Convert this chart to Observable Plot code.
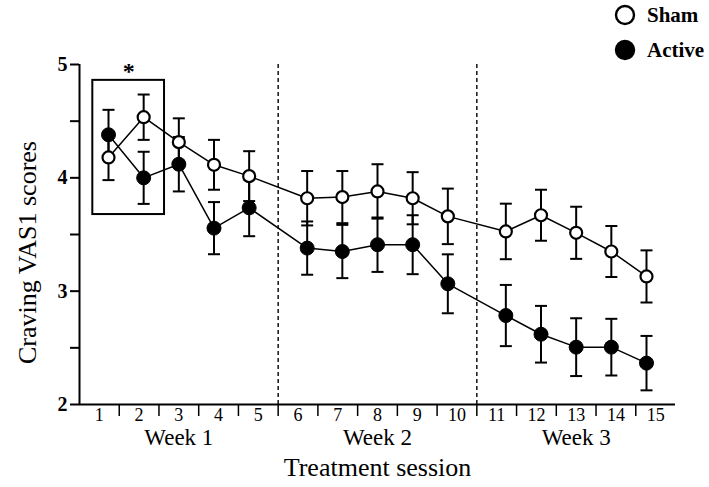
<!DOCTYPE html>
<html><head><meta charset="utf-8">
<script src="https://cdn.jsdelivr.net/npm/d3@7"></script>
<script src="https://cdn.jsdelivr.net/npm/@observablehq/plot@0.6"></script>
<style>
body{margin:0;background:#fff;}
#wrap{position:relative;width:709px;height:487px;font-family:"Liberation Serif","Times New Roman",serif;}
#legend{position:absolute;left:0;top:0;pointer-events:none;}
</style></head><body><div id="wrap"></div>
<script>
// ---- data ----
const sessions = [1,2,3,4,5,6,7,8,9,10,11,12,13,14,15];
const weekOfSession = [1,1,1,1,1,2,2,2,2,2,3,3,3,3,3];
const weekNames = ["Week 1","Week 2","Week 3"];
const weekCenters = [3,8,13];
const weekBoundaries = [5.5,10.5];
const seriesNames = ["Sham","Active"];
const shamMean = [4.18,4.535,4.315,4.115,4.015,3.82,3.83,3.88,3.82,3.66,3.527,3.67,3.515,3.35,3.13];
const shamSem  = [0.20,0.20,0.21,0.22,0.22,0.24,0.23,0.24,0.23,0.245,0.245,0.225,0.23,0.225,0.23];
const activeMean = [4.38,4.0,4.12,3.556,3.735,3.38,3.35,3.41,3.41,3.065,2.785,2.62,2.506,2.506,2.365];
const activeSem  = [0.22,0.23,0.24,0.23,0.25,0.235,0.235,0.24,0.26,0.26,0.27,0.25,0.255,0.25,0.24];
const yTicks = [2,2.5,3,3.5,4,4.5,5];
const xBoundaryTicks = [1.5,2.5,3.5,4.5,5.5,6.5,7.5,8.5,9.5,10.5,11.5,12.5,13.5,14.5];
const highlight = [{x1:0.835,x2:2.64,y1:3.676,y2:4.86,label:"*"}];
const yLabel = "Craving VAS1 scores";
const xLabel = "Treatment session";

// ---- layout helpers ----
const squeeze = 0.885; // points are drawn compressed toward each week's centre
const pos = (s) => { const c = weekCenters[weekOfSession[s-1]-1]; return c + (s - c) * squeeze; };

const rows = [];
sessions.forEach((s,i) => {
  rows.push({session:s, group:"Sham", mean:shamMean[i], sem:shamSem[i], x:pos(s)});
  rows.push({session:s, group:"Active", mean:activeMean[i], sem:activeSem[i], x:pos(s)});
});
const sham = rows.filter(d => d.group === "Sham");
const active = rows.filter(d => d.group === "Active");
const cap = {draw(ctx){ ctx.moveTo(-6,0); ctx.lineTo(6,0); }};
const weeks = weekNames.map((w,i) => ({name:w, x:weekCenters[i]}));
const font = '"Liberation Serif","Times New Roman",serif';

const chart = Plot.plot({
  width: 709, height: 487,
  marginLeft: 79, marginRight: 34, marginTop: 64, marginBottom: 83,
  style: {fontFamily: font, background: "white", color: "black"},
  x: {type: "linear", domain: [0.5, 15.5], axis: null},
  y: {domain: [2, 5], axis: null},
  marks: [
    Plot.ruleX(weekBoundaries, {y1: 2, y2: 5, stroke: "black", strokeWidth: 1.4, strokeDasharray: "4,3"}),
    Plot.ruleY([2], {x1: 0.5, x2: 15.5, stroke: "black", strokeWidth: 2}),
    Plot.ruleX([0.5], {y1: 2, y2: 5, stroke: "black", strokeWidth: 2}),
    Plot.axisY({ticks: yTicks, tickSize: 9, tickPadding: 3, strokeWidth: 2, label: null,
      tickFormat: d => Number.isInteger(d) ? String(d) : "", fontSize: 20, fontWeight: "bold"}),
    Plot.axisX({ticks: xBoundaryTicks, tickSize: 12, strokeWidth: 1.5, tickFormat: () => "", label: null}),
    Plot.text(sessions, {x: d => d, frameAnchor: "bottom", dy: 16, text: d => String(d), fontSize: 18}),
    Plot.text(weeks, {x: "x", frameAnchor: "bottom", dy: 40, text: "name", fontSize: 23}),
    Plot.text([xLabel], {frameAnchor: "bottom", dy: 71, fontSize: 26}),
    Plot.text([yLabel], {frameAnchor: "left", textAnchor: "middle", dx: -52, dy: 18, rotate: -90, fontSize: 26}),
    Plot.rect(highlight, {x1: "x1", x2: "x2", y1: "y1", y2: "y2", fill: "none", stroke: "black", strokeWidth: 2}),
    Plot.text(highlight, {x: d => (d.x1 + d.x2) / 2, y: "y2", text: "label", dy: -9, fontSize: 24, fontWeight: "bold"}),
    Plot.ruleX(rows, {x: "x", y1: d => d.mean - d.sem, y2: d => d.mean + d.sem, stroke: "black", strokeWidth: 2}),
    Plot.dot(rows, {x: "x", y: d => d.mean - d.sem, symbol: cap, r: 6, fill: "none", stroke: "black", strokeWidth: 2}),
    Plot.dot(rows, {x: "x", y: d => d.mean + d.sem, symbol: cap, r: 6, fill: "none", stroke: "black", strokeWidth: 2}),
    Plot.line(sham, {x: "x", y: "mean", stroke: "black", strokeWidth: 1.5}),
    Plot.line(active, {x: "x", y: "mean", stroke: "black", strokeWidth: 1.5}),
    Plot.dot(sham, {x: "x", y: "mean", r: 6, fill: "white", stroke: "black", strokeWidth: 2.2}),
    Plot.dot(active, {x: "x", y: "mean", r: 7, fill: "black", stroke: "black", strokeWidth: 1})
  ]
});
const wrap = document.getElementById("wrap");
wrap.appendChild(chart);

// legend
const leg = d3.select(wrap).append("svg").attr("id", "legend").attr("width", 709).attr("height", 64);
seriesNames.forEach((name, i) => {
  const g = leg.append("g").attr("transform", `translate(625,${15 + i * 35})`);
  g.append("circle").attr("r", 9).attr("fill", name === "Sham" ? "white" : "black")
    .attr("stroke", "black").attr("stroke-width", 2.4);
  g.append("text").attr("x", 22).attr("y", 0).attr("dy", "0.35em").attr("font-size", 21)
    .attr("font-weight", "bold").attr("font-family", font).text(name);
});
</script></body></html>
